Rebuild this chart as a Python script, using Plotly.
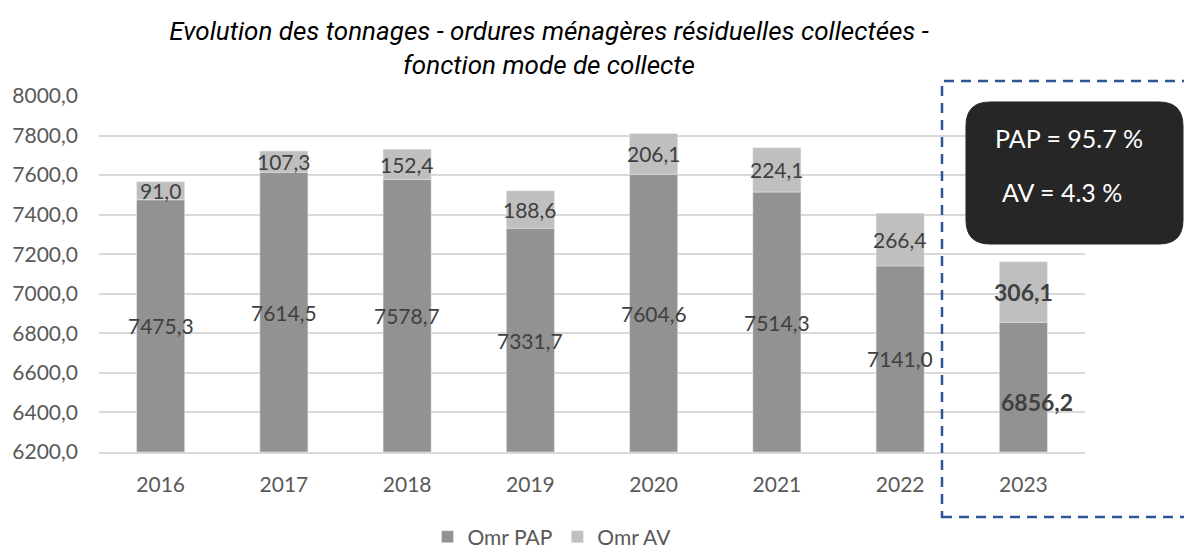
import plotly.graph_objects as go

years = ["2016", "2017", "2018", "2019", "2020", "2021", "2022", "2023"]
omr_pap = [7475.3, 7614.5, 7578.7, 7331.7, 7604.6, 7514.3, 7141.0, 6856.2]
omr_av = [91.0, 107.3, 152.4, 188.6, 206.1, 224.1, 266.4, 306.1]
y_ticks = [6200, 6400, 6600, 6800, 7000, 7200, 7400, 7600, 7800, 8000]
y_min, y_max = 6200, 8000
title_text = ("Evolution des tonnages - ordures ménagères résiduelles collectées -"
              "<br>fonction mode de collecte")
box_lines = ["PAP = 95.7 %", "AV = 4.3 %"]

# page body has an 8px margin: figure drawn from (8, 8)
OFF = 8
W, H = 1192 - OFF, 548 - OFF
P_LEFT, P_RIGHT, P_TOP, P_BOTTOM = 99, 1085, 96, 452   # plot area in page pixels
ML = P_LEFT - OFF
MR = W - (P_RIGHT - OFF)
MT = P_TOP - OFF
MB = H - (P_BOTTOM - OFF)
PW, PH = P_RIGHT - P_LEFT, P_BOTTOM - P_TOP

def px_x(px):
    return (px - P_LEFT) / PW

def px_y(py):
    return (P_BOTTOM - py) / PH

def cont_x(px):
    return (px - OFF) / W

def cont_y(py):
    return 1 - (py - OFF) / H

LABEL_FONT = "Lato"
c_pap = "#929292"
c_av = "#bfbfbf"

fig = go.Figure()
fig.add_trace(go.Bar(x=years, y=[v - y_min for v in omr_pap], base=y_min,
                     name="Omr PAP", marker_color=c_pap, hoverinfo="skip"))
fig.add_trace(go.Bar(x=years, y=omr_av, base=omr_pap, name="Omr AV",
                     marker_color=c_av, hoverinfo="skip"))

def fmt(v):
    return f"{v:.1f}".replace(".", ",")

annotations = []
for i, yr in enumerate(years):
    last = i == len(years) - 1
    pap_mid = (y_min + omr_pap[i]) / 2
    av_mid = omr_pap[i] + omr_av[i] / 2
    fsize = 23 if last else 21
    weight = "bold" if last else "normal"
    annotations.append(dict(x=i, y=pap_mid, xref="x", yref="y", text=fmt(omr_pap[i]),
                            showarrow=False, xanchor="center", yanchor="middle",
                            font=dict(family=LABEL_FONT, size=fsize, color="#404040", weight=weight),
                            xshift=14 if last else 0, yshift=-15 if last else 0))
    annotations.append(dict(x=i, y=av_mid, xref="x", yref="y", text=fmt(omr_av[i]),
                            showarrow=False, xanchor="center", yanchor="middle",
                            font=dict(family=LABEL_FONT, size=fsize, color="#404040", weight=weight)))

# text inside the black box
annotations.append(dict(x=px_x(1069), y=px_y(138), xref="paper", yref="paper",
                        text=box_lines[0], showarrow=False, xanchor="center", yanchor="middle",
                        font=dict(family=LABEL_FONT, size=25, color="white")))
annotations.append(dict(x=px_x(1062), y=px_y(192), xref="paper", yref="paper",
                        text=box_lines[1], showarrow=False, xanchor="center", yanchor="middle",
                        font=dict(family=LABEL_FONT, size=25, color="white")))

# rounded black box path (page pixels)
x0, x1, y0, y1, r = 966, 1183, 102, 244, 24
pts = [
    ("M", (x0 + r, y0)), ("L", (x1 - r, y0)), ("Q", (x1, y0), (x1, y0 + r)),
    ("L", (x1, y1 - r)), ("Q", (x1, y1), (x1 - r, y1)),
    ("L", (x0 + r, y1)), ("Q", (x0, y1), (x0, y1 - r)),
    ("L", (x0, y0 + r)), ("Q", (x0, y0), (x0 + r, y0)),
]
path = ""
for p in pts:
    cmd = p[0]
    coords = " ".join(f"{px_x(a):.5f},{px_y(b):.5f}" for a, b in p[1:])
    path += f"{cmd}{coords} "
path += "Z"

shapes = [
    dict(type="rect", xref="paper", yref="paper",
         x0=px_x(942), x1=px_x(1189), y0=px_y(517), y1=px_y(81),
         line=dict(color="#2f5597", width=2.5, dash="10px,7px"), fillcolor="rgba(0,0,0,0)",
         layer="above"),
    dict(type="path", xref="paper", yref="paper", path=path,
         fillcolor="#262626", line=dict(color="#262626", width=1), layer="above"),
]

fig.update_layout(
    width=W, height=H,
    margin=dict(l=ML, r=MR, t=MT, b=MB, autoexpand=False),
    paper_bgcolor="white", plot_bgcolor="white",
    barmode="overlay", bargap=0.61,
    separators=", ",
    title=dict(text=title_text, x=cont_x(549), xanchor="center", xref="container",
               y=cont_y(40), yanchor="middle", yref="container",
               font=dict(family="Roboto", size=26, color="#000000", style="italic")),
    xaxis=dict(type="category", range=[-0.5, len(years) - 0.5], autorange=False,
               automargin=False,
               showgrid=False, showline=True, linecolor="#d9d9d9",
               linewidth=1.5, ticks="", ticklabelstandoff=13,
               tickfont=dict(family=LABEL_FONT, size=21, color="#595959")),
    yaxis=dict(range=[y_min, y_max], autorange=False, automargin=False,
               tickvals=y_ticks, tickformat=".1f",
               showgrid=True, gridcolor="#d9d9d9", gridwidth=1.5, zeroline=False,
               showline=False, ticks="", ticklabelstandoff=20,
               tickfont=dict(family=LABEL_FONT, size=21, color="#595959")),
    legend=dict(orientation="h", xanchor="center", x=cont_x(552), xref="container",
                yanchor="middle", y=cont_y(537), yref="container",
                font=dict(family=LABEL_FONT, size=21, color="#595959"),
                bgcolor="rgba(0,0,0,0)"),
    annotations=annotations,
    shapes=shapes,
    showlegend=True,
)

fig.write_html("out.html")
